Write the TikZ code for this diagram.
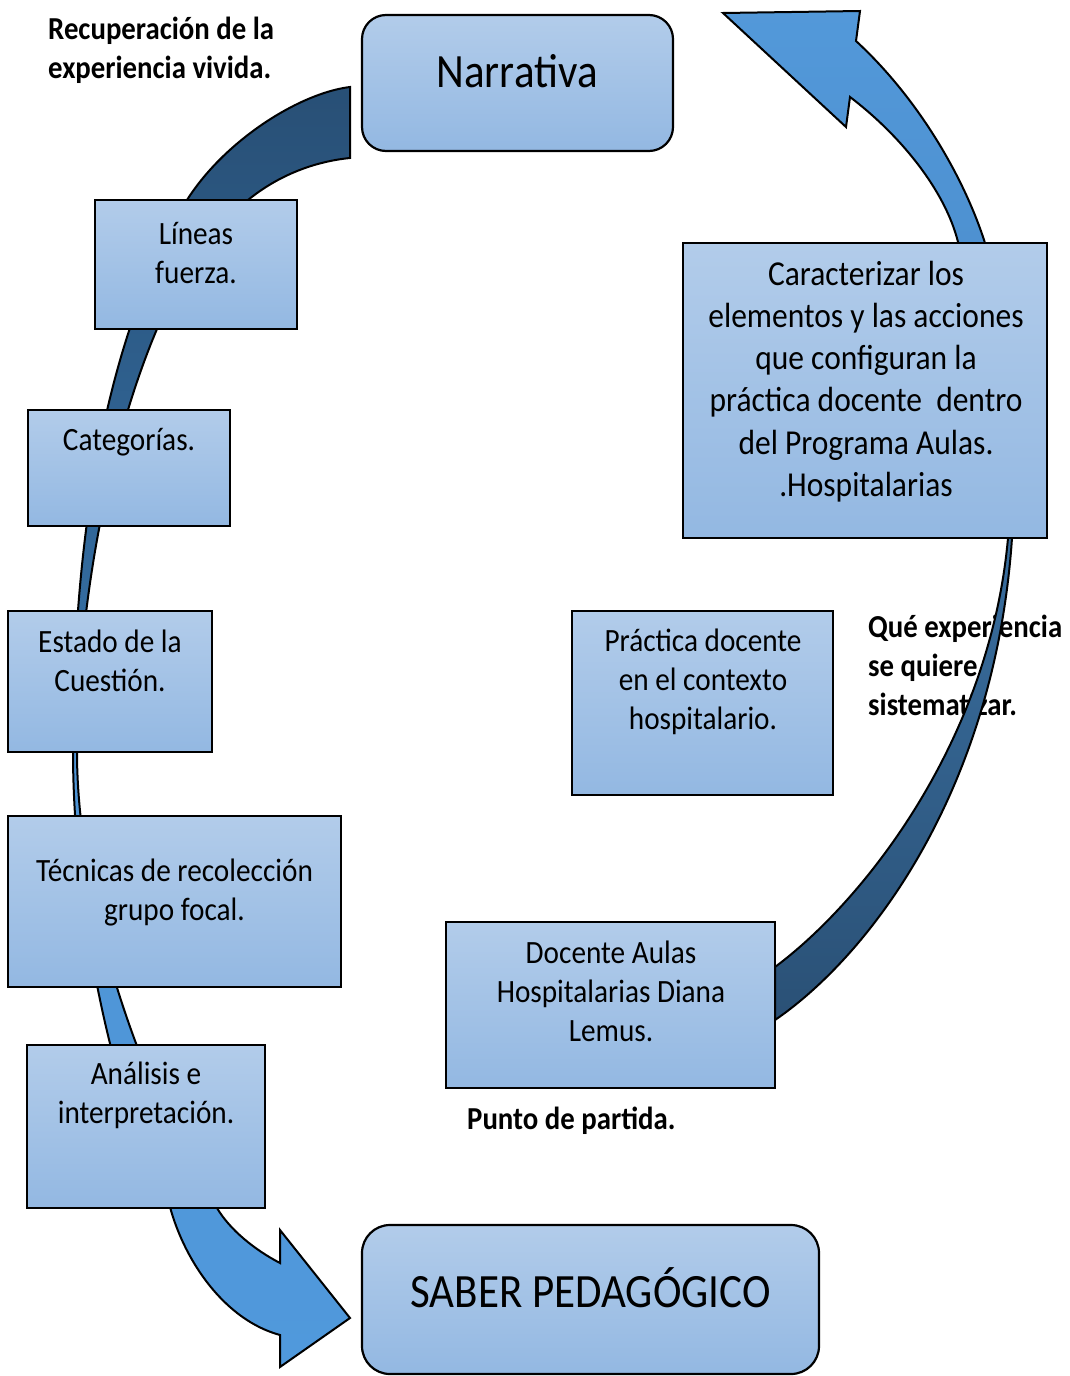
\documentclass[tikz,border=0pt]{standalone}
\usepackage{fontspec}
\setmainfont{Carlito}[FakeStretch=0.9]
\usetikzlibrary{positioning}

\definecolor{cajaarriba}{HTML}{B2CCEA}
\definecolor{cajaabajo}{HTML}{93B8E2}
\definecolor{oscuroA}{HTML}{284F75}
\definecolor{oscuroB}{HTML}{3570A6}
\definecolor{claroA}{HTML}{4E93D4}
\definecolor{claroB}{HTML}{5099DC}
\definecolor{derA}{HTML}{3D76AA}
\definecolor{derB}{HTML}{2A5075}
\definecolor{derclaroA}{HTML}{5399DA}
\definecolor{derclaroB}{HTML}{4A8CCB}

% flecha curva de la izquierda (Narrativa -> Saber)
\newcommand{\bandaizq}{(350,87) .. controls (300,93) and (225,140) .. (187,200)
  .. controls (110,330) and (73,520) .. (73,752)
  .. controls (73,900) and (110,1100) .. (170,1207)
  .. controls (185,1262) and (225,1320) .. (280,1335)
  -- (280,1367) -- (350,1318) -- (280,1230) -- (280,1263)
  .. controls (255,1250) and (230,1230) .. (217,1208)
  .. controls (140,1090) and (77,900) .. (77,752)
  .. controls (78,600) and (110,440) .. (157,329)
  .. controls (185,265) and (215,225) .. (248,200)
  .. controls (275,178) and (310,162) .. (350,158) -- cycle}
% flecha curva de la derecha (Docente -> arriba)
\newcommand{\bandader}{(775,1020) .. controls (870,955) and (995,790) .. (1012,538)
  .. controls (1018,440) and (1003,320) .. (985,243)
  .. controls (965,180) and (920,100) .. (856,41)
  -- (860,11) -- (723,13) -- (846,127) -- (850,97)
  .. controls (900,135) and (945,190) .. (958,242)
  .. controls (968,282) and (1010,400) .. (1008,538)
  .. controls (990,740) and (865,900) .. (775,967) -- cycle}

\begin{document}
\begin{tikzpicture}[x=1pt,y=-1pt,
  caja/.style={draw=black, line width=2.2pt, top color=cajaarriba, bottom color=cajaabajo, inner sep=0pt},
  texto/.style={align=center, inner sep=0pt, font=\fontsize{32.5}{39}\selectfont},
  nota/.style={align=left, anchor=west, inner sep=0pt, font=\fontsize{32}{39}\selectfont\bfseries},
  contorno/.style={draw=black, line width=2pt, line join=miter}]
  \useasboundingbox (0,0) rectangle (1070,1376);

  % notas en negrita
  \node[nota] (recuperacion) at (48,50.5) {Recuperación de la\\experiencia vivida.};
  \node[nota] (queexp) at (868,665) {Qué experiencia\\se quiere\\sistematizar.};
  \node[nota] (punto) at (467,1121) {Punto de partida.};

  % flechas
  \begin{scope}
    \clip \bandaizq;
    \shade[top color=oscuroA, bottom color=oscuroB] (0,80) rectangle (400,700);
    \shade[top color=claroA, bottom color=claroB] (0,700) rectangle (400,1376);
  \end{scope}
  \draw[contorno] \bandaizq;
  \begin{scope}
    \clip \bandader;
    \shade[top color=derclaroA, bottom color=derclaroB] (700,0) rectangle (1070,400);
    \shade[top color=derA, bottom color=derB] (700,400) rectangle (1070,1030);
  \end{scope}
  \draw[contorno] \bandader;

  % cajas
  \node[caja, rounded corners=24pt, minimum width=311, minimum height=136] (narrativa) at (517.5,83) {};
  \node[texto, font=\fontsize{47.8}{50}\selectfont] (narrativa-t) at (517,71.5) {Narrativa};

  \node[caja, minimum width=202, minimum height=129] (lineas) at (196,264.5) {};
  \node[texto] (lineas-t) at (196,253.5) {Líneas\\fuerza.};

  \node[caja, minimum width=202, minimum height=116] (categorias) at (129,468) {};
  \node[texto] (categorias-t) at (129,442) {Categorías.};

  \node[caja, minimum width=204, minimum height=141] (estado) at (110,681.5) {};
  \node[texto] (estado-t) at (110,660.5) {Estado de la\\Cuestión.};

  \node[caja, minimum width=333, minimum height=171] (tecnicas) at (174.5,901.5) {};
  \node[texto] (tecnicas-t) at (174.5,892.5) {Técnicas de recolección\\grupo focal.};

  \node[caja, minimum width=238, minimum height=163] (analisis) at (146,1126.5) {};
  \node[texto] (analisis-t) at (146,1095.5) {Análisis e\\interpretación.};

  \node[caja, minimum width=364, minimum height=295] (caracterizar) at (865,390.5) {};
  \node[texto, font=\fontsize{35}{42.2}\selectfont] (caracterizar-t) at (866,381.5)
    {Caracterizar los\\elementos y las acciones\\que configuran la\\práctica docente~ dentro\\del Programa Aulas.\\.Hospitalarias};

  \node[caja, minimum width=261, minimum height=184] (practica) at (702.5,703) {};
  \node[texto] (practica-t) at (703,682) {Práctica docente\\en el contexto\\hospitalario.};

  \node[caja, minimum width=329, minimum height=166] (docente) at (610.5,1005) {};
  \node[texto] (docente-t) at (611,991) {Docente Aulas\\Hospitalarias Diana\\Lemus.};

  \node[caja, rounded corners=28pt, minimum width=457, minimum height=149] (saber) at (590.5,1299.5) {};
  \node[texto, font=\fontsize{47.8}{50}\selectfont] (saber-t) at (590.5,1287.5) {SABER PEDAGÓGICO};
\end{tikzpicture}
\end{document}
